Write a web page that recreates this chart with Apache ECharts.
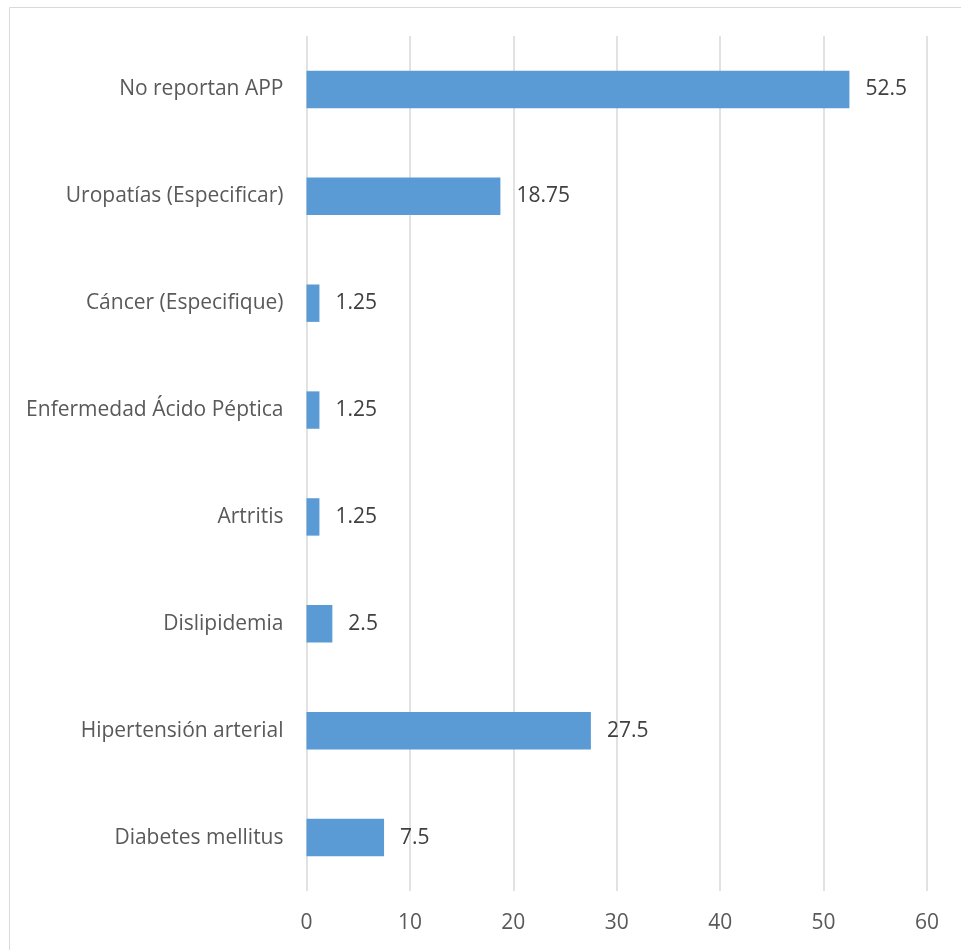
<!DOCTYPE html>
<html>
<head>
<meta charset="utf-8">
<script src="https://cdn.jsdelivr.net/npm/echarts@6/dist/echarts.min.js"></script>
<style>
html,body{margin:0;padding:0;background:#fff;}
#chart{width:961px;height:950px;}
</style>
</head>
<body>
<div id="chart"></div>
<script>
// Data (bottom-to-top order for ECharts category axis)
const categories = ['Diabetes mellitus','Hipertensión arterial','Dislipidemia','Artritis','Enfermedad Ácido Péptica','Cáncer (Especifique)','Uropatías (Especificar)','No reportan APP'];
const values = [7.5, 27.5, 2.5, 1.25, 1.25, 1.25, 18.75, 52.5];
const xTicks = [0, 10, 20, 30, 40, 50, 60];

const chart = echarts.init(document.getElementById('chart'), null, {renderer:'canvas'});
const font = '"Open Sans", "Noto Sans", sans-serif';
chart.setOption({
  animation: false,
  backgroundColor: '#ffffff',
  graphic: [{
    type: 'rect', shape: {x: 9.5, y: 7.5, width: 970, height: 960},
    style: {fill: 'none', stroke: '#d9d9d9', lineWidth: 1}, silent: true
  }],
  grid: {left: 306.5, right: 34, top: 36, bottom: 59, containLabel: false},
  xAxis: {
    type: 'value', min: xTicks[0], max: xTicks[xTicks.length-1], interval: 10,
    axisLine: {show: false}, axisTick: {show: false},
    splitLine: {show: true, lineStyle: {color: '#d9d9d9', width: 1.5}},
    axisLabel: {color: '#595959', fontSize: 21, fontFamily: font, margin: 22}
  },
  yAxis: {
    type: 'category', data: categories,
    axisLine: {show: false}, axisTick: {show: false},
    axisLabel: {color: '#595959', fontSize: 21, fontFamily: font, margin: 23, padding: [4, 0, 0, 0]}
  },
  series: [{
    type: 'bar', data: values, barWidth: '35%',
    itemStyle: {color: '#5b9bd5'},
    label: {show: true, position: 'right', distance: 16, color: '#404040', fontSize: 21, fontFamily: font, padding: [4, 0, 0, 0]}
  }]
});
</script>
</body>
</html>
